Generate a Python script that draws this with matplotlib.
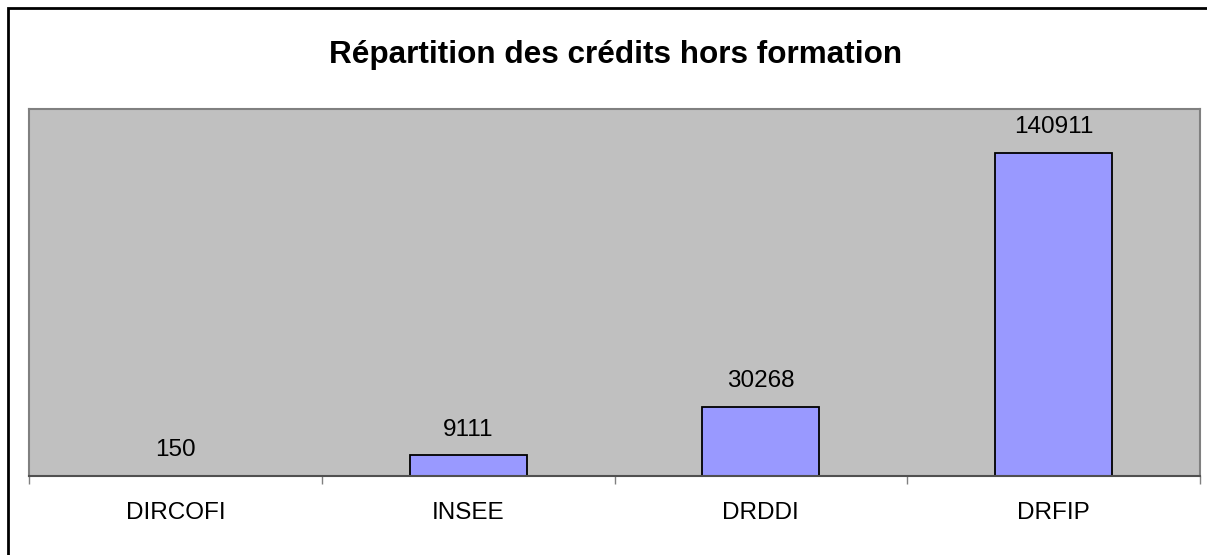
# répartition des crédits hors formation
import numpy as np
import matplotlib.pyplot as plt
from matplotlib.patches import Rectangle

plt.rcParams['font.family'] = ['Liberation Sans', 'DejaVu Sans']

# data
categories = ["DIRCOFI", "INSEE", "DRDDI", "DRFIP"]
credits = [150, 9111, 30268, 140911]

fig = plt.figure(figsize=(12.07, 5.55), dpi=100)
ax = fig.add_axes([29 / 1207, 1 - 476 / 555, (1200 - 29) / 1207, (476 - 109) / 555])

x = np.arange(len(categories))
ax.bar(x, credits, width=0.4, color="#9999FF", edgecolor="black", linewidth=1.3)

for xi, v in zip(x, credits):
    ax.annotate(str(v), (xi, v), xytext=(0, 14), textcoords="offset points",
                ha="center", va="baseline", fontsize=17.5)

ax.set_facecolor("#C0C0C0")
ax.set_xlim(-0.5, len(categories) - 0.5)
ax.set_ylim(0, 160000)
ax.set_yticks([])
ax.set_xticks(x)
ax.set_xticklabels(categories, fontsize=17.5)
ax.tick_params(axis="x", length=0, pad=19)
ax.set_xticks(np.arange(len(categories) + 1) - 0.5, minor=True)
ax.tick_params(axis="x", which="minor", length=6, color="#808080", width=1)

for side in ["top", "right", "left"]:
    ax.spines[side].set_color("#808080")
    ax.spines[side].set_linewidth(1.5)
ax.spines["bottom"].set_color("#505050")
ax.spines["bottom"].set_linewidth(1.5)

fig.text(616 / 1207, 1 - 55 / 555, "Répartition des crédits hors formation",
         ha="center", va="center", fontsize=22.7, fontweight="bold")

# border around the whole chart (right and bottom edges fall outside the image)
fig.patches.append(Rectangle((8 / 1207, -0.05), 1.0, 1.05 - 8 / 555,
                             transform=fig.transFigure, fill=False,
                             edgecolor="black", linewidth=2))

fig.savefig("out.png", dpi=100)
